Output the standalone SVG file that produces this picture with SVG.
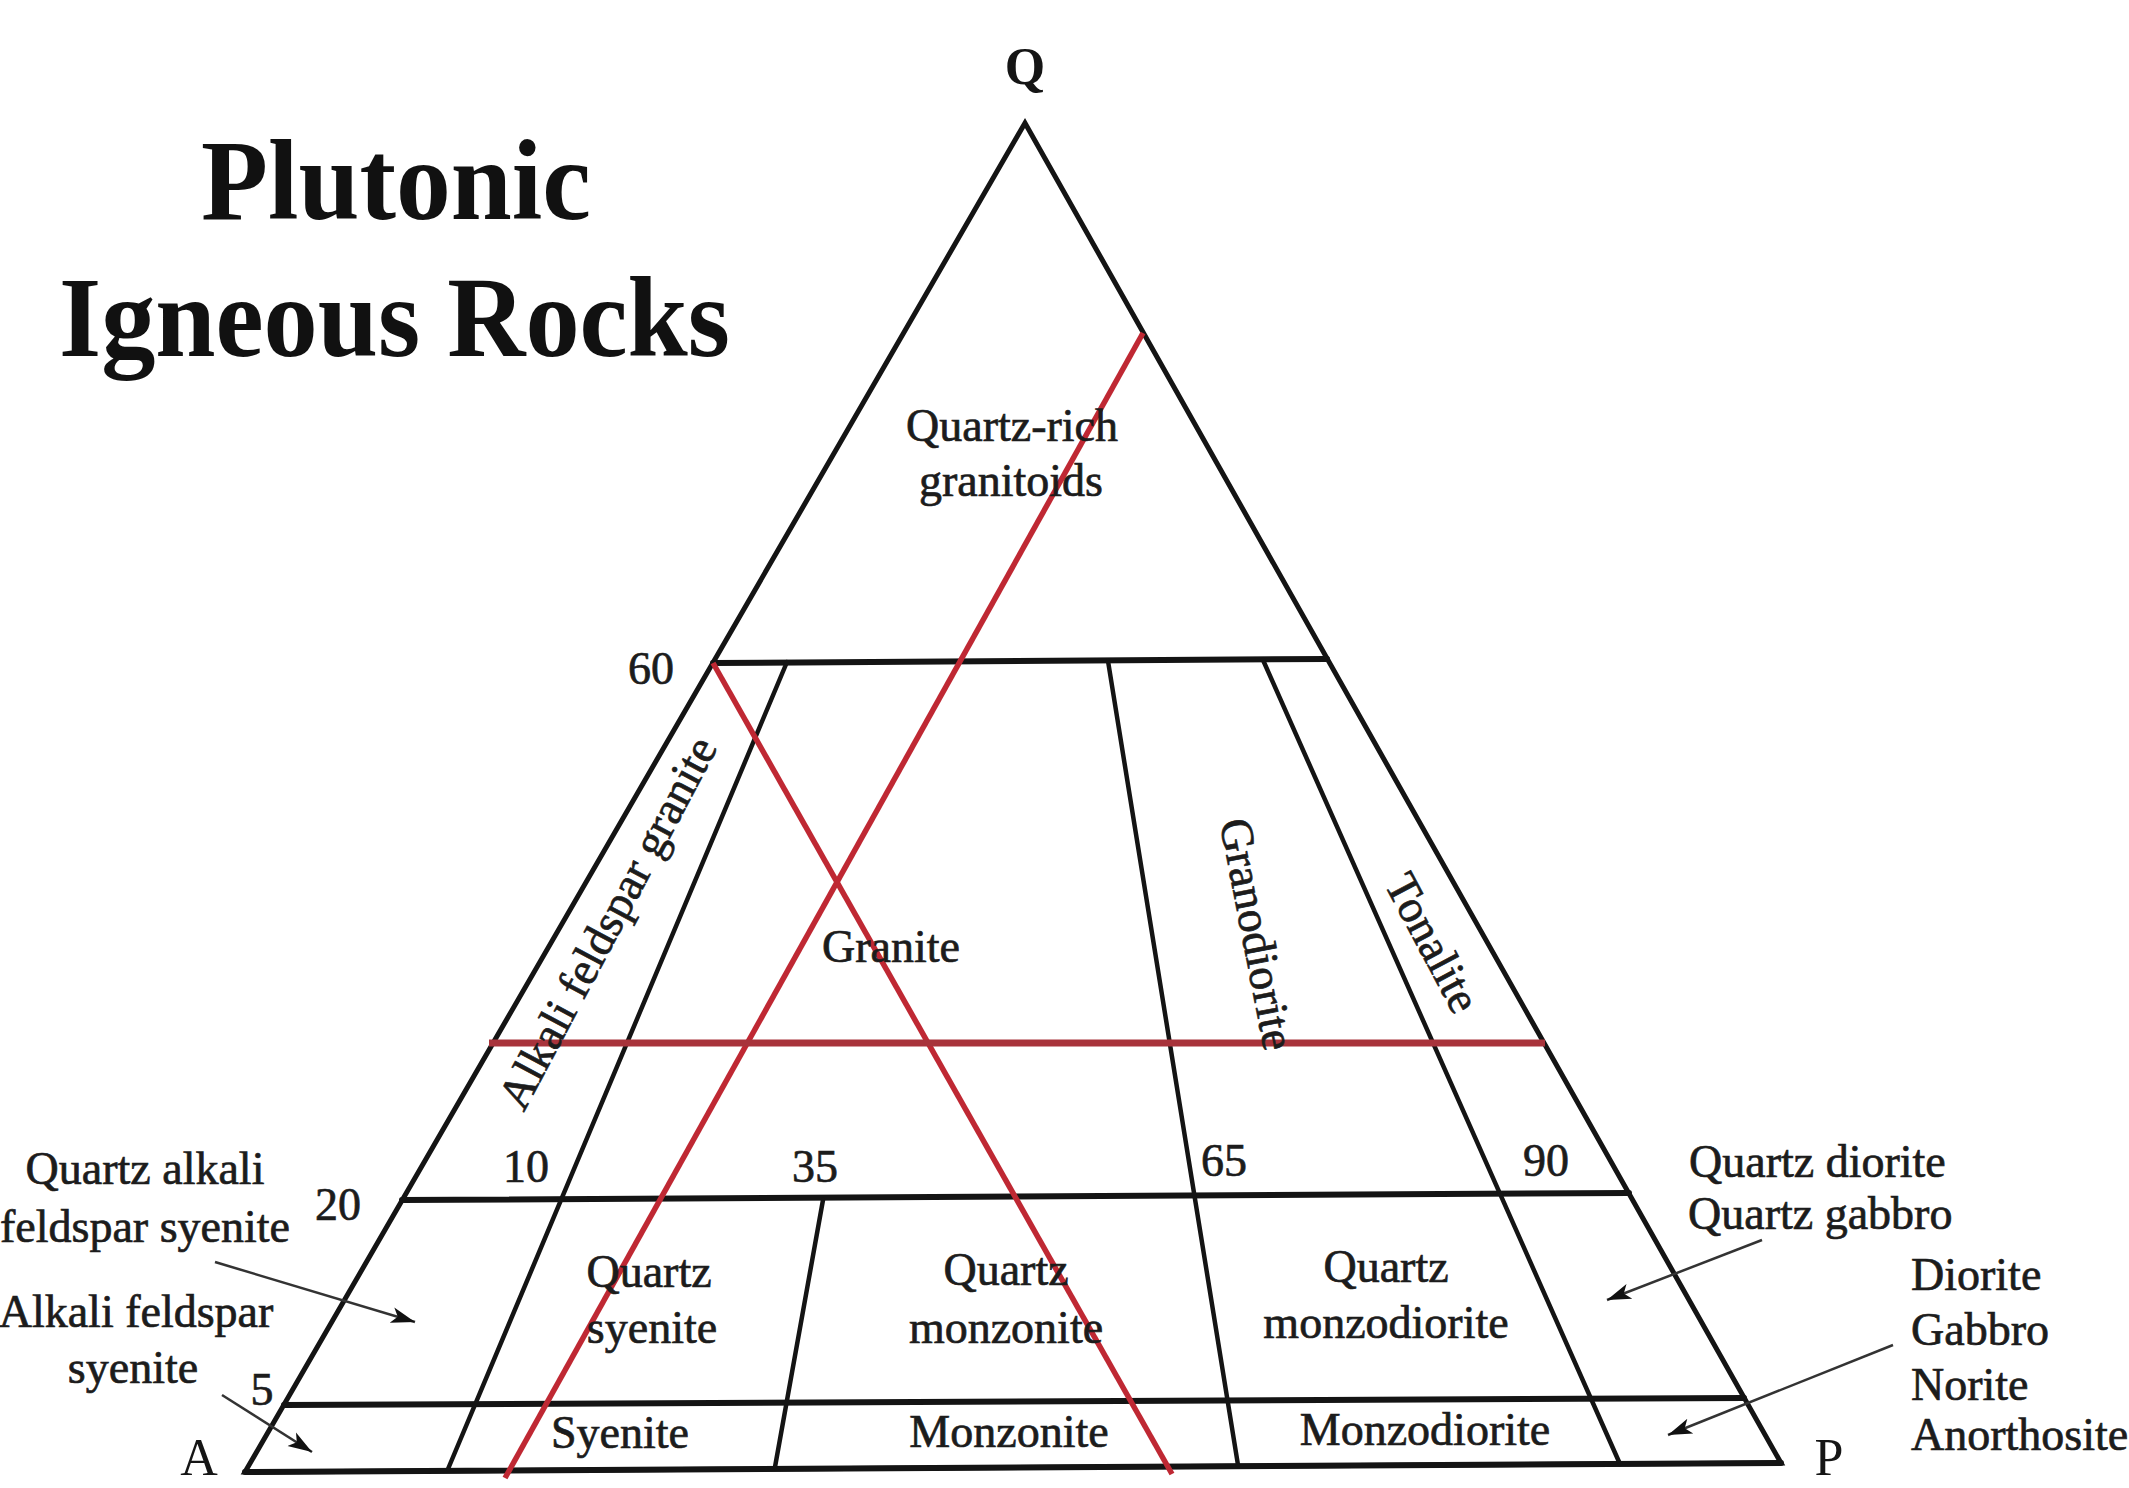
<svg xmlns="http://www.w3.org/2000/svg" width="2129" height="1488" viewBox="0 0 2129 1488">
<defs>
<style>
.edge{stroke:#141414;stroke-width:5;fill:none;stroke-linejoin:miter}
.hz{stroke:#141414;stroke-width:6;fill:none;stroke-linecap:round}
.ln{stroke:#141414;stroke-width:4.5;fill:none;stroke-linecap:round}
.red{stroke:#bf2833;stroke-width:5.5;fill:none}
.redh{stroke:#a8333b;stroke-width:7;fill:none}
.t{font-family:"Liberation Serif","Times New Roman",serif;font-size:46px;fill:#1c1c1c;stroke:#1c1c1c;stroke-width:0.7px}
.c{text-anchor:middle}
.tb{font-family:"Liberation Serif","Times New Roman",serif;font-weight:bold;font-size:114px;fill:#111}
.v{font-family:"Liberation Serif","Times New Roman",serif;font-size:52px;fill:#151515;text-anchor:middle}
.arr{stroke:#333;stroke-width:2.5;fill:none;marker-end:url(#ah)}
</style>
<marker id="ah" markerUnits="userSpaceOnUse" markerWidth="28" markerHeight="20" refX="24" refY="10" orient="auto">
<path d="M0,2 L24,10 L0,18 L6,10 Z" fill="#111"/>
</marker>
</defs>
<rect width="2129" height="1488" fill="#fff"/>

<g id="title">
<text class="tb" x="201" y="219" textLength="390" lengthAdjust="spacingAndGlyphs">Plutonic</text>
<text class="tb" x="59" y="356" textLength="671" lengthAdjust="spacingAndGlyphs">Igneous Rocks</text>
</g>

<g id="frame">
<polygon class="edge" points="1025,123 245,1472 1781,1463"/>
<line class="hz" x1="245" y1="1472" x2="1781" y2="1463"/>
<line class="hz" x1="713" y1="663" x2="1327" y2="659"/>
<line class="hz" x1="402" y1="1200" x2="1629" y2="1193"/>
<line class="hz" x1="284" y1="1405" x2="1744" y2="1398"/>
<line class="ln" x1="787" y1="662" x2="448" y2="1469"/>
<line class="ln" x1="823" y1="1200" x2="775" y2="1467"/>
<line class="ln" x1="1108" y1="661" x2="1238" y2="1465"/>
<line class="ln" x1="1263" y1="660" x2="1620" y2="1464"/>
</g>

<g id="red-lines">
<line class="red" x1="1143" y1="333" x2="505" y2="1478"/>
<line class="red" x1="713" y1="663" x2="1172" y2="1474"/>
<line class="redh" x1="489" y1="1043" x2="1545" y2="1043"/>
</g>

<g id="vertices">
<text class="v" x="1025" y="84" font-weight="bold" font-size="56">Q</text>
<text class="v" x="199" y="1475">A</text>
<text class="v" x="1829" y="1475">P</text>
</g>

<g id="ticks">
<text class="t c" x="651" y="684">60</text>
<text class="t c" x="338" y="1220">20</text>
<text class="t c" x="262" y="1405">5</text>
<text class="t c" x="526" y="1182">10</text>
<text class="t c" x="815" y="1182">35</text>
<text class="t c" x="1224" y="1176">65</text>
<text class="t c" x="1546" y="1176">90</text>
</g>

<g id="fields">
<text class="t c" x="1012" y="441">Quartz-rich</text>
<text class="t c" x="1011" y="496">granitoids</text>
<text class="t c" x="891" y="962">Granite</text>
<text class="t c" transform="translate(621,930) rotate(-62)">Alkali feldspar granite</text>
<text class="t c" transform="translate(1242,937) rotate(79)">Granodiorite</text>
<text class="t c" transform="translate(1419,950) rotate(62)">Tonalite</text>
<text class="t c" x="649" y="1287">Quartz</text>
<text class="t c" x="652" y="1343">syenite</text>
<text class="t c" x="1006" y="1285">Quartz</text>
<text class="t c" x="1006" y="1343">monzonite</text>
<text class="t c" x="1386" y="1282">Quartz</text>
<text class="t c" x="1386" y="1338">monzodiorite</text>
<text class="t c" x="620" y="1448">Syenite</text>
<text class="t c" x="1009" y="1447">Monzonite</text>
<text class="t c" x="1425" y="1445">Monzodiorite</text>
</g>

<g id="side-labels">
<text class="t c" x="145" y="1184">Quartz alkali</text>
<text class="t c" x="145" y="1242">feldspar syenite</text>
<text class="t c" x="136" y="1327">Alkali feldspar</text>
<text class="t c" x="133" y="1383">syenite</text>
<text class="t" x="1689" y="1177">Quartz diorite</text>
<text class="t" x="1688" y="1229">Quartz gabbro</text>
<text class="t" x="1911" y="1290">Diorite</text>
<text class="t" x="1911" y="1345">Gabbro</text>
<text class="t" x="1911" y="1400">Norite</text>
<text class="t" x="1911" y="1450">Anorthosite</text>
</g>

<g id="connectors">
<line class="arr" x1="215" y1="1262" x2="415" y2="1322"/>
<line class="arr" x1="222" y1="1395" x2="312" y2="1452"/>
<line class="arr" x1="1762" y1="1240" x2="1607" y2="1300"/>
<line class="arr" x1="1893" y1="1345" x2="1668" y2="1435"/>
</g>
</svg>
